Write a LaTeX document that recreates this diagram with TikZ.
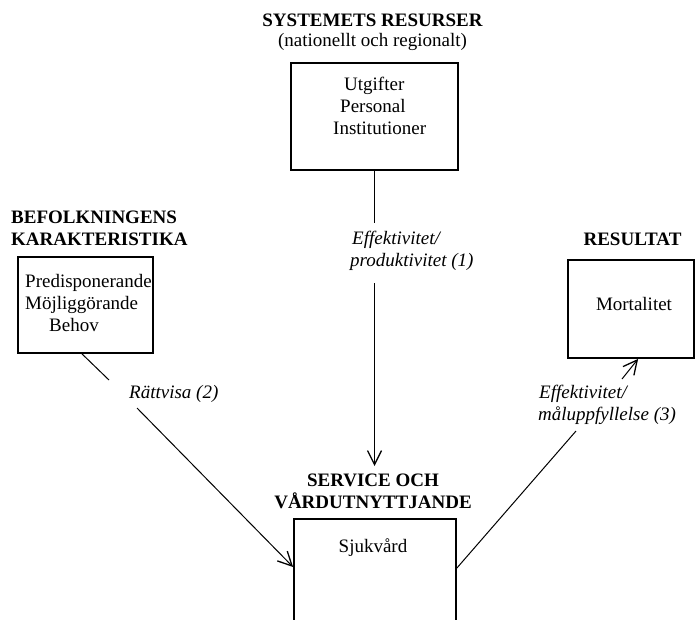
\documentclass[tikz,border=0pt]{standalone}
\usepackage{fontspec}
\setmainfont{Liberation Serif}
\usetikzlibrary{arrows.meta,calc}
\begin{document}
\begin{tikzpicture}[x=1pt,y=-1pt,
  txt/.style={inner sep=0pt, font=\fontsize{19}{22}\selectfont},
  ttl/.style={inner sep=0pt, font=\fontsize{19}{22}\selectfont\bfseries},
  lbl/.style={inner sep=0pt, font=\fontsize{19}{22}\selectfont\itshape},
  box/.style={draw, line width=1.8pt, inner sep=0pt},
  conn/.style={line width=1pt},
  arr/.style={conn, -{Straight Barb[length=14pt,width=14pt,line width=1.3pt]}}]
\useasboundingbox (0,0) rectangle (695,619);
\clip (0,0) rectangle (695,619);

% boxes
\node[box, minimum width=167pt, minimum height=107pt] (topbox) at (374.5,116.5) {};
\node[box, minimum width=135pt, minimum height=96pt] (leftbox) at (85.5,305) {};
\node[box, minimum width=126pt, minimum height=98pt] (resbox) at (631,309) {};
\node[box, minimum width=162pt, minimum height=112pt] (svcbox) at (375,575) {};

% titles
\node[ttl, anchor=base] (t1) at (372.5,26) {SYSTEMETS RESURSER};
\node[txt, anchor=base] (t1b) at (372.5,46) {(nationellt och regionalt)};
\node[ttl, anchor=base west] (t2) at (11,223) {BEFOLKNINGENS};
\node[ttl, anchor=base west] (t2b) at (11,245) {KARAKTERISTIKA};
\node[ttl, anchor=base] (t3) at (632.5,245) {RESULTAT};
\node[ttl, anchor=base] (t4) at (373,486) {SERVICE OCH};
\node[ttl, anchor=base] (t4b) at (373,508) {VÅRDUTNYTTJANDE};

% box contents
\node[txt, anchor=base west] (u1) at (344,90) {Utgifter};
\node[txt, anchor=base west] (u2) at (340,112) {Personal};
\node[txt, anchor=base west] (u3) at (333,134) {Institutioner};
\node[txt, anchor=base west] (p1) at (25,287) {Predisponerande};
\node[txt, anchor=base west] (p2) at (25,309) {Möjliggörande};
\node[txt, anchor=base west] (p3) at (49,331) {Behov};
\node[txt, anchor=base] (m1) at (634,310) {Mortalitet};
\node[txt, anchor=base] (s1) at (373,552) {Sjukvård};

% connector labels
\node[lbl, anchor=base west] (e1) at (352,244) {Effektivitet/};
\node[lbl, anchor=base west] (e1b) at (350,266) {produktivitet (1)};
\node[lbl, anchor=base west] (r1lab) at (129,398) {Rättvisa (2)};
\node[lbl, anchor=base west] (e3) at (539,398) {Effektivitet/};
\node[lbl, anchor=base west] (e3b) at (538,420) {måluppfyllelse (3)};

% connector break points
\coordinate (v1) at (374.5,223);
\coordinate (v2) at (374.5,283);
\coordinate (vtip) at (374.5,466);
\coordinate (l0) at ($(leftbox.south)+(-3.5,0)$);
\coordinate (l1) at (109,380);
\coordinate (l2) at (137,408);
\coordinate (ltip) at ($(svcbox.west)+(0,-8)$);
\coordinate (r0) at ($(svcbox.east)+(0,-7)$);
\coordinate (r1) at (576,431);
\coordinate (r2) at (622,379);
\coordinate (rtip) at ($(resbox.south west)+(71,0)$);

% connectors
\draw[conn] (topbox.south) -- (v1);
\draw[arr] (v2) -- (vtip);
\draw[conn] (l0) -- (l1);
\draw[arr] (l2) -- (ltip);
\draw[conn] (r0) -- (r1);
\draw[arr] (r2) -- (rtip);
\end{tikzpicture}
\end{document}
